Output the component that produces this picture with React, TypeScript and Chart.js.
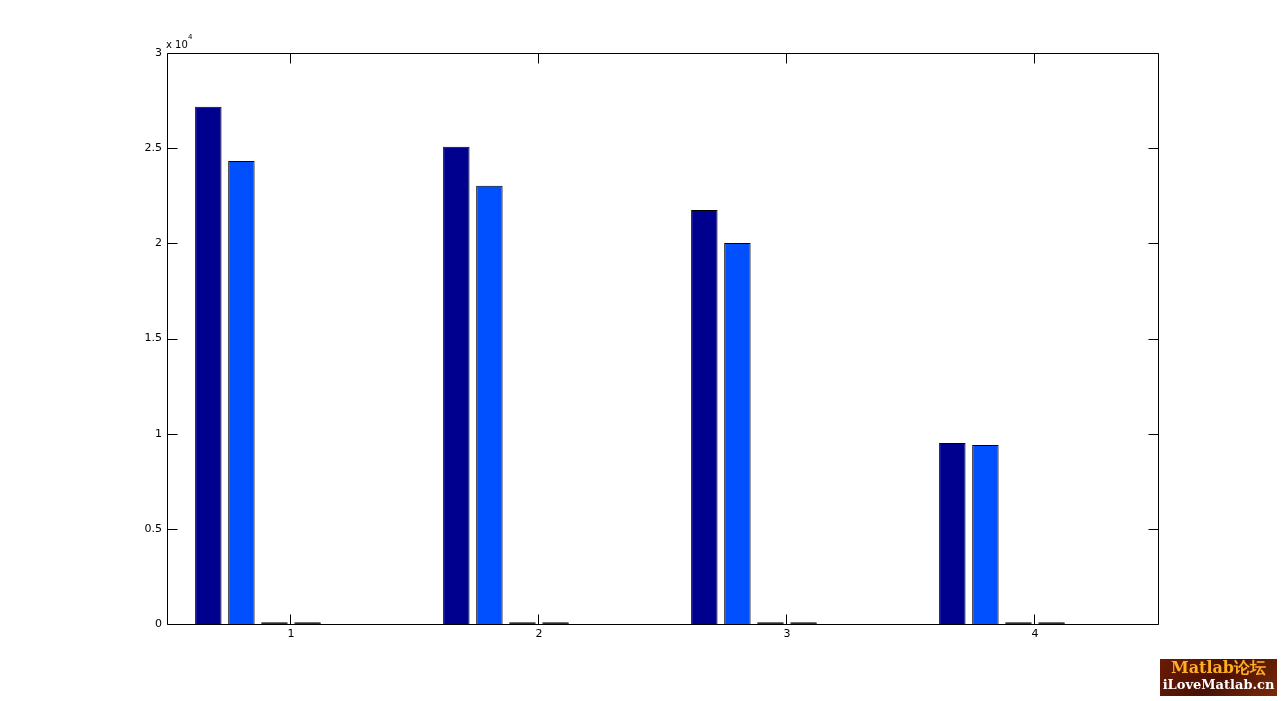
import React, { useEffect, useRef } from "react";
import { Chart, registerables } from "chart.js";

Chart.register(...registerables);

const categories = ["1", "2", "3", "4"];
const series1 = [27170, 25070, 21750, 9510];
const series2 = [24330, 23020, 20020, 9400];
const series3 = [90, 90, 90, 90];
const series4 = [90, 90, 90, 90];
const series5: (number | null)[] = [null, null, null, null];
const series6: (number | null)[] = [null, null, null, null];
const seriesColors = ["#00008F", "#0050FF", "#20FFDF", "#EFFF10", "#FF5000", "#800000"];
const yTicks = [0, 5000, 10000, 15000, 20000, 25000, 30000];

const FONT = "'DejaVu Sans', 'Liberation Sans', Arial, sans-serif";

const framePlugin = {
  id: "matlabFrame",
  afterDraw(chart: any) {
    const { ctx, chartArea } = chart;
    const { left, right, top, bottom } = chartArea;
    const x = chart.scales.x;
    const y = chart.scales.y;
    ctx.save();
    ctx.strokeStyle = "#000";
    ctx.lineWidth = 1;
    const L = Math.round(left) + 0.5;
    const R = Math.round(right) - 0.5;
    const T = Math.round(top) + 0.5;
    const B = Math.round(bottom) + 0.5;
    ctx.beginPath();
    ctx.moveTo(L, T);
    ctx.lineTo(R, T);
    ctx.lineTo(R, B);
    ctx.lineTo(L, B);
    ctx.closePath();
    ctx.stroke();
    const tl = 10;
    ctx.beginPath();
    yTicks.forEach((v) => {
      const py = Math.round(y.getPixelForValue(v)) + 0.5;
      ctx.moveTo(L, py);
      ctx.lineTo(L + tl, py);
      ctx.moveTo(R, py);
      ctx.lineTo(R - tl, py);
    });
    categories.forEach((_, i) => {
      const px = Math.floor(x.getPixelForValue(i)) - 0.5;
      ctx.moveTo(px, B);
      ctx.lineTo(px, B - tl);
      ctx.moveTo(px, T);
      ctx.lineTo(px, T + tl);
    });
    ctx.stroke();
    ctx.fillStyle = "#000";
    ctx.textBaseline = "alphabetic";
    ctx.textAlign = "left";
    ctx.font = `10px ${FONT}`;
    ctx.fillText("x 10", 166, 48);
    ctx.font = `7px ${FONT}`;
    ctx.fillText("4", 188, 39);
    ctx.restore();
  },
};

export default function App() {
  const canvasRef = useRef<HTMLCanvasElement | null>(null);

  useEffect(() => {
    const canvas = canvasRef.current;
    if (!canvas) return;
    const all = [series1, series2, series3, series4, series5, series6];
    const chart = new Chart(canvas, {
      type: "bar",
      data: {
        labels: categories,
        datasets: all.map((d, i) => ({
          label: `Series ${i + 1}`,
          data: d,
          backgroundColor: i >= 2 ? "#000" : seriesColors[i],
          borderColor: "#000",
          borderWidth: 1,
          categoryPercentage: 0.8,
          barPercentage: 0.8,
        })),
      },
      options: {
        responsive: false,
        animation: false,
        layout: { padding: { left: 0, top: 53, right: 122, bottom: 47 } },
        plugins: {
          legend: { display: false },
          tooltip: { enabled: false },
        },
        scales: {
          x: {
            type: "category",
            offset: true,
            grid: { display: false, drawTicks: false },
            border: { display: false },
            ticks: {
              color: "#000",
              font: { family: FONT, size: 11 },
              padding: 4,
              maxRotation: 0,
            },
            afterFit: (s: any) => {
              s.height = 30;
            },
          },
          y: {
            min: 0,
            max: 30000,
            grid: { display: false, drawTicks: false },
            border: { display: false },
            afterBuildTicks: (s: any) => {
              s.ticks = yTicks.map((v) => ({ value: v }));
            },
            ticks: {
              color: "#000",
              font: { family: FONT, size: 11 },
              padding: 5,
              callback: (v: any) => String(Number(v) / 10000),
            },
            afterFit: (s: any) => {
              s.width = 167;
            },
          },
        },
      },
      plugins: [framePlugin],
    });
    return () => chart.destroy();
  }, []);

  return (
    <div
      style={{
        position: "fixed",
        left: 0,
        top: 0,
        width: 1281,
        height: 701,
        background: "#fff",
        overflow: "hidden",
      }}
    >
      <canvas ref={canvasRef} width={1281} height={701} style={{ display: "block" }} />
      <div
        style={{
          position: "absolute",
          left: 1160,
          top: 659,
          width: 117,
          height: 37,
          background: "linear-gradient(135deg, #6a1c06 0%, #4a1004 50%, #7a2a08 100%)",
          fontFamily: "'DejaVu Serif', 'Liberation Serif', serif",
          fontWeight: "bold",
          textAlign: "center",
          lineHeight: 1,
        }}
      >
        <div style={{ color: "#FFB020", fontSize: 16, marginTop: 1, letterSpacing: 0 }}>Matlab论坛</div>
        <div style={{ color: "#ffffff", fontSize: 13, marginTop: 2 }}>iLoveMatlab.cn</div>
      </div>
    </div>
  );
}
